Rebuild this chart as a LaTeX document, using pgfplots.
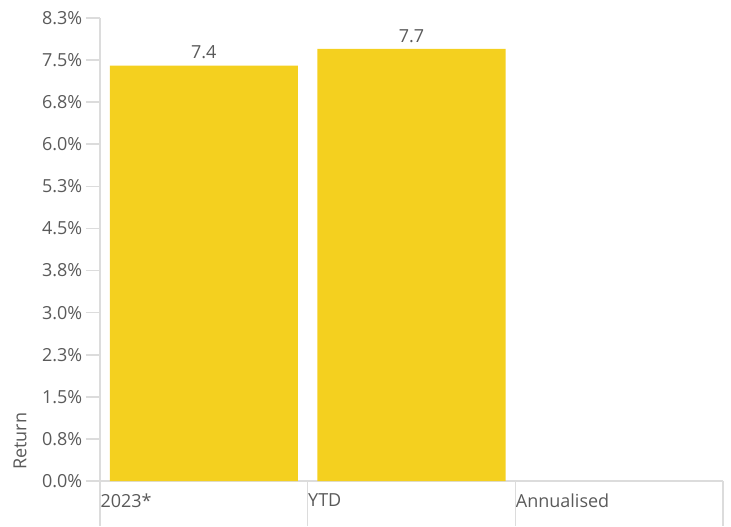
\documentclass[border=0pt]{standalone}
\usepackage{fontspec}
\setmainfont{Open Sans}
\usepackage{pgfplots}
\pgfplotsset{compat=1.18}
\definecolor{baryellow}{HTML}{F4D01F}
\definecolor{txt}{HTML}{5A5A5A}
\definecolor{axl}{HTML}{DCDCDC}
\begin{document}
\begin{tikzpicture}
\begin{axis}[
  scale only axis, width=623pt, height=463pt,
  xmin=-0.5, xmax=2.5, ymin=0, ymax=8.25,
  separate axis lines,
  axis x line*=bottom, axis y line*=left,
  axis line style={draw=axl, line width=1.6pt, -},
  clip=false,
  font=\fontsize{18}{21}\selectfont,
  tick label style={font=\fontsize{18}{21}\selectfont, text=txt},
  ytick={0,0.75,1.5,2.25,3,3.75,4.5,5.25,6,6.75,7.5,8.25},
  yticklabels={0.0\%,0.8\%,1.5\%,2.3\%,3.0\%,3.8\%,4.5\%,5.3\%,6.0\%,6.8\%,7.5\%,8.3\%},
  tick align=outside, major tick length=14pt,
  ytick style={draw=axl, line width=1.6pt},
  y tick label style={inner xsep=3.5pt},
  xtick={-0.5,0.5,1.5},
  xticklabels={2023*,YTD,Annualised},
  xtick style={draw=none},
  x tick label style={anchor=north west, xshift=-3pt, yshift=5pt},
  ylabel={Return},
  ylabel style={text=txt, font=\fontsize{18}{21}\selectfont, at={(axis description cs:-0.1284,0.086)}, anchor=center},
  ybar, bar width=188pt,
  nodes near coords,
  every node near coord/.append style={text=txt, font=\fontsize{18}{21}\selectfont, /pgf/number format/fixed, /pgf/number format/precision=1, /pgf/number format/fixed zerofill, /pgf/number format/assume math mode=true, yshift=3pt},
]
\addplot[fill=baryellow, draw=none] coordinates {(0,7.4) (1,7.7)};
\draw[axl, line width=1.6pt] (axis cs:-0.5,0) -- ++(0pt,-45pt);
\draw[axl, line width=1.6pt] (axis cs:0.5,0) -- ++(0pt,-45pt);
\draw[axl, line width=1.6pt] (axis cs:1.5,0) -- ++(0pt,-45pt);
\draw[axl, line width=1.6pt] (axis cs:2.5,0) -- ++(0pt,-45pt);
\coordinate (ll) at (rel axis cs:0,0);
\coordinate (ur) at (rel axis cs:1,1);
\end{axis}
\pgfresetboundingbox
\path ([shift={(-100pt,-45pt)}]ll) rectangle ([shift={(8pt,18pt)}]ur);
\end{tikzpicture}
\end{document}
